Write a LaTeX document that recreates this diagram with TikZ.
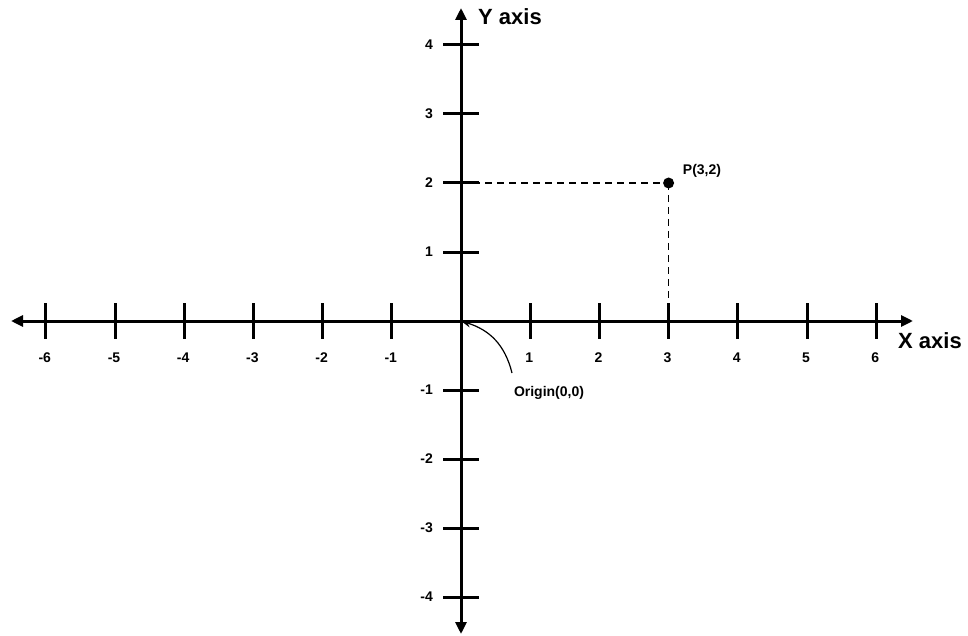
\documentclass[tikz,border=0pt]{standalone}
\usepackage{fontspec}
\setmainfont{Liberation Sans}
\usetikzlibrary{arrows.meta}
\begin{document}
\begin{tikzpicture}[x=1pt,y=-1pt,
  axis/.style={line width=3pt,-{Triangle[length=12pt,width=11pt]}},
  tickline/.style={line width=3pt},
  ticklbl/.style={font=\bfseries\fontsize{14}{16}\selectfont,inner sep=0pt},
  axislbl/.style={font=\bfseries\fontsize{22}{26}\selectfont,inner sep=0pt},
  guide/.style={line width=1.3pt,dash pattern=on 7pt off 5pt}]
\useasboundingbox (0,0) rectangle (968,636);
\coordinate (O) at (461,321);
\coordinate (xl) at (11,321);
\coordinate (xr) at (913,321);
\coordinate (yt) at (461,8);
\coordinate (yb) at (461,634);
\draw[axis] (O) -- (xr);
\draw[axis] (O) -- (xl);
\draw[axis] (O) -- (yt);
\draw[axis] (O) -- (yb);
\foreach \i in {-6,...,-1,1,2,...,6}{
  \draw[tickline] ({461+69.2*\i},303) -- ({461+69.2*\i},339);
  \node[ticklbl] (xt\i) at ({461+69.2*\i-1},358) {\i};
}
\foreach \i in {-4,...,-1,1,2,...,4}{
  \draw[tickline] (443,{321-69*\i}) -- (479,{321-69*\i});
  \node[ticklbl,anchor=east] (yt\i) at (433,{321-69*\i}) {\i};
}
\node[axislbl] (xlab) at (930,341) {X axis};
\node[axislbl] (ylab) at (510,17) {Y axis};
\coordinate (P) at (668.6,183);
\coordinate (Py) at (461,183);
\coordinate (Px) at (668.6,321);
\draw[guide] (Py) -- (P);
\draw[guide] (P) -- (Px);
\fill (P) circle (5.5pt);
\node[ticklbl] (plab) at (702,171) {P(3,2)};
\node[ticklbl] (orig) at (549,393) {Origin(0,0)};
\draw[line width=1.2pt,-{Stealth[length=10pt,width=7pt]}] (512,373) .. controls (505,345) and (490,330) .. (O);
\end{tikzpicture}
\end{document}
